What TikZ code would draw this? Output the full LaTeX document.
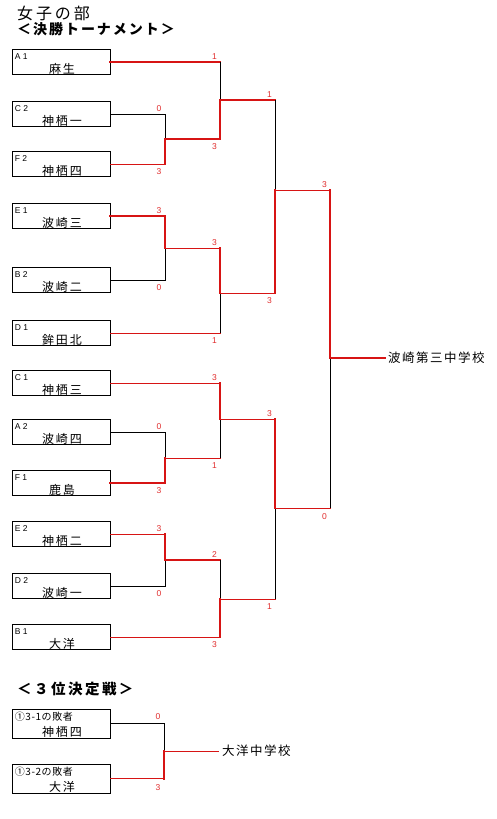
\documentclass[tikz,border=0pt]{standalone}
\usepackage{fontspec}
\setmainfont{Liberation Sans}
\newfontfamily\jp{Noto Sans CJK JP}
\usetikzlibrary{calc}
\definecolor{winred}{RGB}{215,20,20}
\definecolor{scorered}{RGB}{225,45,45}
\begin{document}
\begin{tikzpicture}[x=1pt,y=-1pt,
  team/.style={draw=black, line width=0.9pt, minimum width=98pt, minimum height=25.5pt, inner sep=0pt},
  team3/.style={team, minimum height=29pt},
  code/.style={inner sep=0pt, anchor=west, font=\fontsize{8.5}{9}\selectfont\addfontfeatures{LetterSpace=28}},
  code3/.style={inner sep=0pt, anchor=west, font=\jp\fontsize{10}{11}\selectfont\addfontfeatures{LetterSpace=6}},
  tname/.style={inner sep=0pt, font=\jp\fontsize{12}{13}\selectfont\addfontfeatures{LetterSpace=16}},
  title1/.style={inner sep=0pt, anchor=west, font=\jp\fontsize{16}{17}\selectfont\addfontfeatures{LetterSpace=18}},
  title2/.style={inner sep=0pt, anchor=west, font=\jp\bfseries\fontsize{14}{15}\selectfont\addfontfeatures{LetterSpace=14}},
  title3/.style={inner sep=0pt, anchor=west, font=\jp\bfseries\fontsize{14.5}{15}\selectfont\addfontfeatures{LetterSpace=17}},
  winner/.style={inner sep=0pt, anchor=west, font=\jp\fontsize{12.5}{13}\selectfont\addfontfeatures{LetterSpace=12}},
  score/.style={inner sep=0pt, text=scorered, font=\fontsize{8.5}{9}\selectfont},
  thickred/.style={draw=winred, line width=2.4pt, line cap=rect},
  thinred/.style={draw=winred, line width=1pt, line cap=rect},
  lose/.style={draw=black, line width=0.9pt}
]
\useasboundingbox (0,0) rectangle (496,819);
\fill[white] (0,0) rectangle (496,819);

% titles
\node[title1] (ttl) at (17,13) {女子の部};
\node[title2] (sub) at (17,29) {＜決勝トーナメント＞};
\node[title3] (sub3) at (17,689) {＜３位決定戦＞};

% team boxes
\foreach \n/\y/\c/\t in {a1/62/A1/麻生, c2/114/C2/神栖一, f2/164/F2/神栖四, e1/216/E1/波崎三, b2/280/B2/波崎二, d1/333/D1/鉾田北, c1/383/C1/神栖三, a2/432/A2/波崎四, f1/483/F1/鹿島, e2/534/E2/神栖二, d2/586/D2/波崎一, b1/637/B1/大洋}{
  \node[team] (\n) at (61,\y) {};
  \node[code] (\n-code) at ($(\n.west)+(3,-5.5)$) {\c};
  \node[tname] (\n-name) at ($(\n.center)+(1,7)$) {\t};
}
\node[team3] (t1) at (61,723.5) {};
\node[code3] (t1-code) at ($(t1.west)+(3,-7)$) {①3-1の敗者};
\node[tname] (t1-name) at ($(t1.center)+(1,8.5)$) {神栖四};
\node[team3] (t2) at (61,778.5) {};
\node[code3] (t2-code) at ($(t2.west)+(3,-7)$) {①3-2の敗者};
\node[tname] (t2-name) at ($(t2.center)+(1,8.5)$) {大洋};

% match points
\coordinate (m1) at (165,139);
\coordinate (m2) at (220,100);
\coordinate (m3) at (165,248);
\coordinate (m4) at (220,293);
\coordinate (m5) at (275,190);
\coordinate (m6) at (165,458);
\coordinate (m7) at (220,419);
\coordinate (m8) at (165,560);
\coordinate (m9) at (220,599);
\coordinate (m10) at (275,508);
\coordinate (m11) at (330,358);
\coordinate (m12) at (164,751);

\node[winner, inner xsep=3pt] (champ) at (385,358) {波崎第三中学校};
\node[winner, inner xsep=4pt] (third) at (218,751) {大洋中学校};

% round 1
\draw[lose] (c2.east) -- (c2.east -| m1) -- (m1);
\draw[thinred] (f2.east) -- (f2.east -| m1);
\draw[thickred] (f2.east -| m1) -- (m1);
\draw[thickred] (e1.east) -- (e1.east -| m3) -- (m3);
\draw[lose] (b2.east) -- (b2.east -| m3) -- (m3);
\draw[lose] (a2.east) -- (a2.east -| m6) -- (m6);
\draw[thickred] (f1.east) -- (f1.east -| m6) -- (m6);
\draw[thinred] (e2.east) -- (e2.east -| m8);
\draw[thickred] (e2.east -| m8) -- (m8);
\draw[lose] (d2.east) -- (d2.east -| m8) -- (m8);

% round 2
\draw[thickred] (a1.east) -- (a1.east -| m2);
\draw[lose] (a1.east -| m2) -- (m2);
\draw[thickred] (m1) -- (m1 -| m2) -- (m2);
\draw[thinred] (m3) -- (m3 -| m4);
\draw[thickred] (m3 -| m4) -- (m4);
\draw[thinred] (d1.east) -- (d1.east -| m4);
\draw[lose] (d1.east -| m4) -- (m4);
\draw[thinred] (c1.east) -- (c1.east -| m7);
\draw[thickred] (c1.east -| m7) -- (m7);
\draw[thinred] (m6) -- (m6 -| m7);
\draw[lose] (m6 -| m7) -- (m7);
\draw[thickred] (m8) -- (m8 -| m9);
\draw[lose] (m8 -| m9) -- (m9);
\draw[thinred] (b1.east) -- (b1.east -| m9);
\draw[thickred] (b1.east -| m9) -- (m9);

% semifinals
\draw[thickred] (m2) -- (m2 -| m5);
\draw[lose] (m2 -| m5) -- (m5);
\draw[thinred] (m4) -- (m4 -| m5);
\draw[thickred] (m4 -| m5) -- (m5);
\draw[thinred] (m7) -- (m7 -| m10);
\draw[thickred] (m7 -| m10) -- (m10);
\draw[thinred] (m9) -- (m9 -| m10);
\draw[lose] (m9 -| m10) -- (m10);

% final
\draw[thinred] (m5) -- (m5 -| m11);
\draw[thickred] (m5 -| m11) -- (m11);
\draw[thinred] (m10) -- (m10 -| m11);
\draw[lose] (m10 -| m11) -- (m11);
\draw[thickred] (m11) -- (champ.west);

% third place
\draw[lose] (t1.east) -- (t1.east -| m12) -- (m12);
\draw[thinred] (t2.east) -- (t2.east -| m12);
\draw[thickred] (t2.east -| m12) -- (m12);
\draw[thinred] (m12) -- (third.west);

% scores
\foreach \x/\y/\s in {214.5/57/1, 159/109/0, 159/172/3, 214.5/147/3, 269.5/95/1,
  159/211/3, 159/288/0, 214.5/243/3, 214.5/341/1, 269.5/301/3, 324.5/185/3,
  214.5/378/3, 159/427/0, 159/491/3, 214.5/466/1, 269.5/414/3,
  159/529/3, 159/594/0, 214.5/555/2, 214.5/645/3, 269.5/607/1, 324.5/517/0,
  158/717/0, 158/788/3}{
  \node[score] at (\x,\y) {\s};
}
\end{tikzpicture}
\end{document}
